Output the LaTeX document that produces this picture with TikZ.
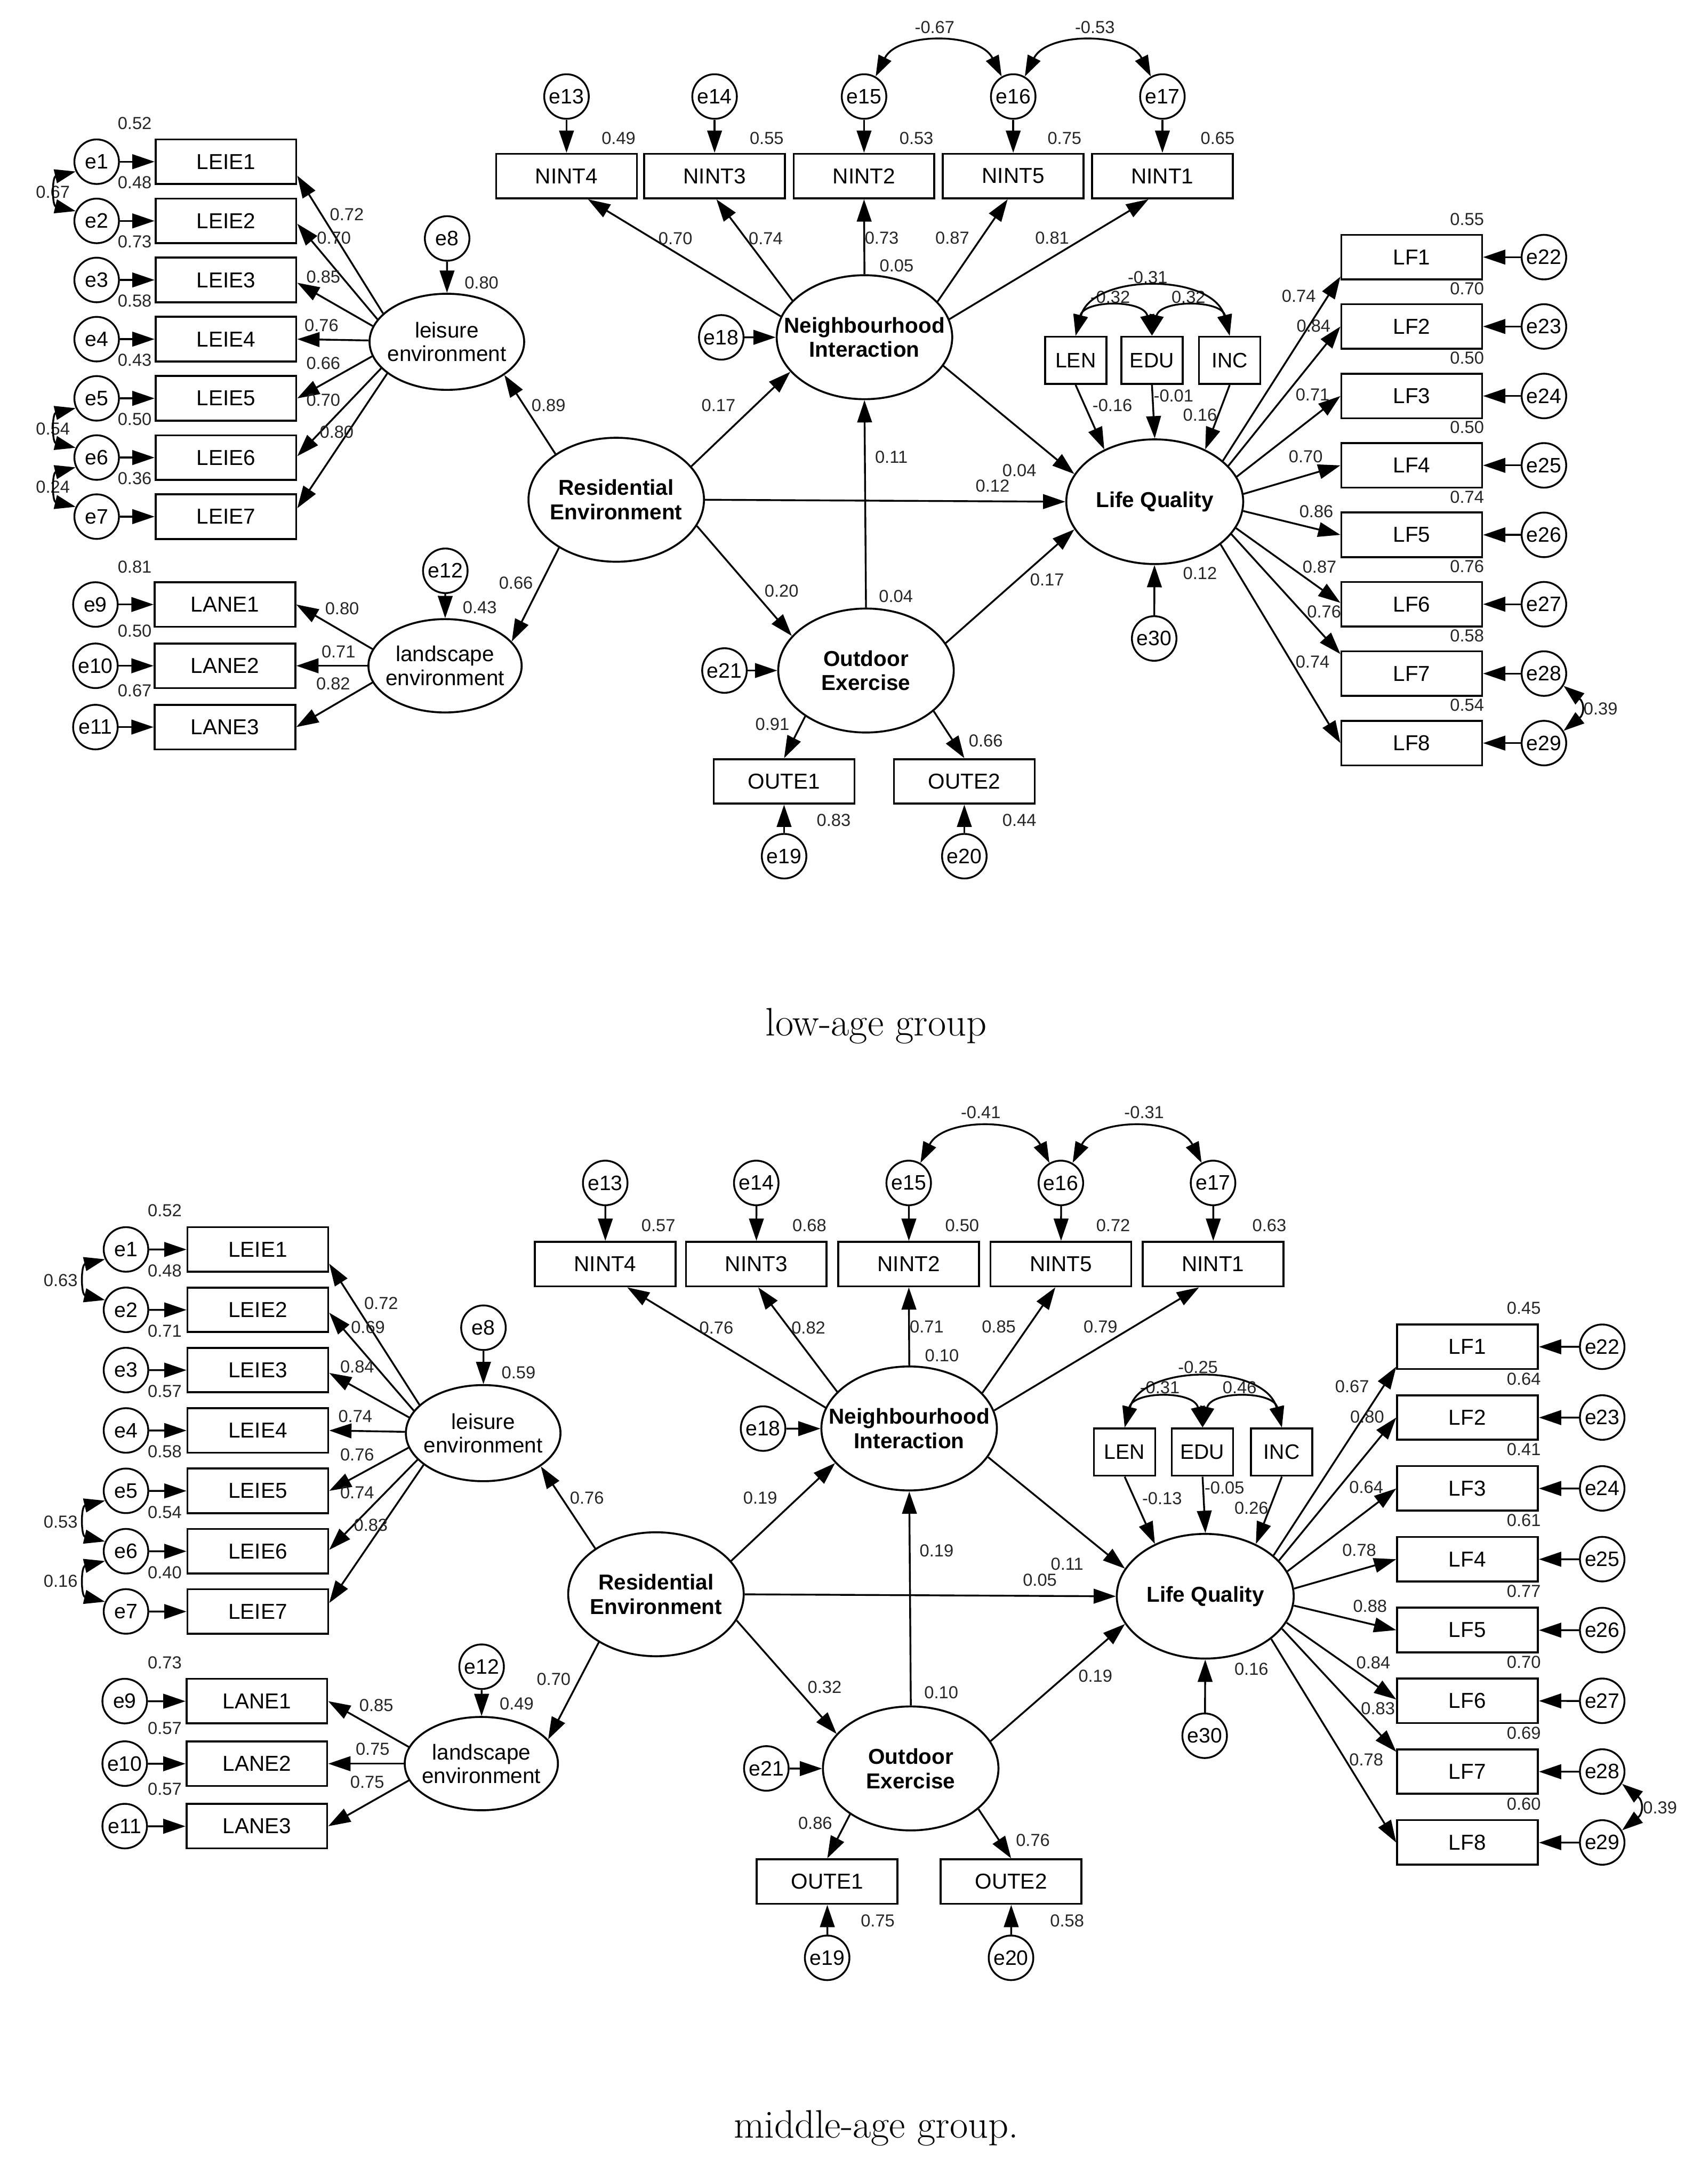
\documentclass[tikz,border=0pt]{standalone}
\usepackage{fontspec}
\newfontfamily\diagfont{Liberation Sans}
\usetikzlibrary{arrows.meta,shapes.geometric}

\newcommand\setlab[2]{\expandafter\def\csname semlab@#1\endcsname{#2}}
\newcommand\lab[1]{\csname semlab@#1\endcsname}
\newcommand\V[2]{\node[val] (v#1) at (#2) {\lab{#1}};}

\tikzset{
 obs/.style={draw, rectangle, line width=1.4pt, minimum width=101pt, minimum height=32pt, inner sep=0pt, font=\diagfont\fontsize{15.5}{17}\selectfont},
 sobs/.style={obs, minimum width=44pt, minimum height=34pt, font=\diagfont\fontsize{15}{17}\selectfont},
 err/.style={draw, circle, line width=1.3pt, minimum size=32pt, inner sep=0pt, font=\diagfont\fontsize{15}{17}\selectfont},
 lat/.style n args={2}{draw, ellipse, line width=1.4pt, inner sep=0pt, minimum width=#1pt, minimum height=#2pt},
 ltxt/.style={align=center, inner sep=0pt, font=\diagfont\fontsize{15.5}{17.5}\selectfont\bfseries},
 ltxtr/.style={align=center, inner sep=0pt, font=\diagfont\fontsize{15.5}{17}\selectfont},
 val/.style={inner sep=0pt, font=\diagfont\fontsize{12.5}{12.5}\selectfont, text=black!85},
 arr/.style={line width=1.3pt, -{Triangle[length=16pt,width=10.5pt]}},
 cov/.style={line width=1.3pt, {Triangle[length=15pt,width=10pt]}-{Triangle[length=15pt,width=10pt]}},
 capt/.style={font=\fontsize{28.5}{30}\selectfont}
}

\newcommand\semdiagram{%
 % ---------- leisure environment block
 \foreach \k/\y in {1/116.1,2/158.6,3/201.0,4/243.5,5/286.0,6/328.5,7/370.9}{%
   \node[err] (e\k) at (69.4,\y) {e\k};
   \node[obs] (LEIE\k) at (162.2,\y) {LEIE\k};
   \draw[arr] (e\k) -- (LEIE\k);
 }
 \node[lat={111}{69}] (lei) at (320.8,245.4) {};
 \node[ltxtr] (leit) at (lei) {leisure\\environment};
 \node[err] (e8) at (321,171.2) {e8};
 \draw[arr] (e8) -- (lei);
 \foreach \k/\ang/\d in {1/156/-10,2/162/-2,3/168/-2,4/179/0,5/191/0,6/202/1,7/208/6}{%
   \draw[arr] (lei.\ang) -- ([yshift=\d pt]LEIE\k.east);
 }
 % ---------- landscape environment block
 \foreach \k/\e/\y in {1/9/434,2/10/478,3/11/522}{%
   \node[err] (e\e) at (68.5,\y) {e\e};
   \node[obs] (LANE\k) at (161.5,\y) {LANE\k};
   \draw[arr] (e\e) -- (LANE\k);
 }
 \node[lat={110}{67}] (land) at (319.5,478) {};
 \node[ltxtr] (landt) at (land) {landscape\\environment};
 \node[err] (e12) at (319.7,409.8) {e12};
 \draw[arr] (e12) -- (land);
 \foreach \k/\ang in {1/167,2/180,3/193}{\draw[arr] (land.\ang) -- (LANE\k.east);}
 % ---------- latent constructs
 \node[lat={126}{89}] (Res) at (442.4,358.8) {};
 \node[ltxt] (Rest) at (Res) {Residential\\Environment};
 \node[lat={126}{89}] (NI) at (620.6,242.1) {};
 \node[ltxt] (NIt) at (NI) {Neighbourhood\\Interaction};
 \node[lat={126}{89}] (OE) at (621.7,481.4) {};
 \node[ltxt] (OEt) at (OE) {Outdoor\\Exercise};
 \node[lat={127}{89.5}] (LQ) at (829,360.2) {};
 \node[ltxt] (LQt) at (LQ) {Life Quality};
 % ---------- neighbourhood indicators
 \foreach \n/\e/\x in {4/13/406.7,3/14/513,2/15/620.3,5/16/727.4,1/17/834.5}{%
   \node[obs] (NINT\n) at (\x,126.4) {NINT\n};
   \node[err] (e\e) at (\x,69.3) {e\e};
   \draw[arr] (e\e) -- (NINT\n);
 }
 \foreach \n/\ang/\d in {4/166/15.4,3/153/1.3,2/90/0,5/26/-4,1/12/-10}{%
   \draw[arr] (NI.\ang) -- ([xshift=\d pt]NINT\n.south);
 }
 \node[err] (e18) at (517.8,242.2) {e18};
 \draw[arr] (e18) -- (NI);
 % ---------- outdoor exercise indicators
 \node[err] (e21) at (520.1,481.4) {e21};
 \draw[arr] (e21) -- (OE);
 \node[obs] (OUTE1) at (562.9,561) {OUTE1};
 \node[obs] (OUTE2) at (692.3,561) {OUTE2};
 \node[err] (e19) at (562.9,614.7) {e19};
 \node[err] (e20) at (692.3,614.7) {e20};
 \draw[arr] (OE.217) -- (OUTE1.north);
 \draw[arr] (OE.329) -- (OUTE2.north);
 \draw[arr] (e19) -- (OUTE1);
 \draw[arr] (e20) -- (OUTE2);
 % ---------- structural paths
 \draw[arr] (Res.143) -- (lei.330);
 \draw[arr] (Res.220) -- (land.20);
 \draw[arr] (Res.24) -- (NI.205);
 \draw[arr] (Res.0) -- (LQ.180);
 \draw[arr] (Res.342) -- (OE.155);
 \draw[arr] (OE.north) -- (NI.south);
 \draw[arr] (NI.340) -- (LQ.161);
 \draw[arr] (OE.19) -- (LQ.199);
 % ---------- controls
 \node[sobs] (LEN) at (772.2,258.7) {LEN};
 \node[sobs] (EDU) at (827,258.7) {EDU};
 \node[sobs] (INC) at (882.8,258.7) {INC};
 \draw[arr] (LEN.south) -- (LQ.134);
 \draw[arr] (EDU.south) -- (LQ.north);
 \draw[arr] (INC.south) -- (LQ.46);
 \node[err] (e30) at (828.6,458.4) {e30};
 \draw[arr] (e30) -- (LQ);
 % ---------- life quality indicators
 \foreach \k/\e/\y in {1/22/184.6,2/23/234.4,3/24/284.3,4/25/334.1,5/26/384.0,6/27/433.8,7/28/483.6,8/29/533.5}{%
   \node[obs] (LF\k) at (1013.5,\y) {LF\k};
   \node[err] (e\e) at (1108.4,\y) {e\e};
   \draw[arr] (e\e) -- (LF\k);
 }
 \foreach \k/\ang/\d in {1/31.6/-14,2/26.6/0,3/17.3/0,4/5.9/0,5/354.3/0,6/342.2/1,7/337.2/14,8/327.1/0}{%
   \draw[arr] (LQ.\ang) -- ([yshift=\d pt]LF\k.west);
 }
 % ---------- value labels
 \V{rl1}{96.7,88.6} \V{rl2}{96.7,131.1} \V{rl3}{96.7,173.5} \V{rl4}{96.7,216.0}
 \V{rl5}{96.7,258.5} \V{rl6}{96.7,301.0} \V{rl7}{96.7,343.4}
 \V{cl1}{\lab{covx},138} \V{cl2}{\lab{covx},307.7} \V{cl3}{\lab{covx},349.6}
 \V{ll1}{249,153.9} \V{ll2}{239.7,170.9} \V{ll3}{232.1,198.6} \V{ll4}{230.8,233.7}
 \V{ll5}{232.1,260.7} \V{ll6}{232.1,287.3} \V{ll7}{241.7,310.3}
 \V{rlei}{345.7,202.8} \V{plei}{393.8,291.1}
 \V{rland}{344.4,436} \V{pland}{370.4,418.5}
 \V{ra1}{96.7,407} \V{ra2}{96.7,453} \V{ra3}{96.7,496}
 \V{la1}{245.6,437} \V{la2}{243,467.7} \V{la3}{239.2,491}
 \V{rn1}{444.1,99.1} \V{rn2}{550.4,99.1} \V{rn3}{657.9,99.1} \V{rn4}{764.2,99.1} \V{rn5}{874.1,99.1}
 \V{cn1}{671,19.6} \V{cn2}{786,19.6}
 \V{ln1}{484.9,171.4} \V{ln2}{549.7,171.4} \V{ln3}{633,170.7} \V{ln4}{683.7,170.7} \V{ln5}{755.3,170.7}
 \V{rni}{643.7,190.6} \V{pni}{515.8,290.9} \V{poeni}{639.9,328}
 \V{pnilq}{731.8,337.7} \V{preslq}{712.6,348.8}
 \V{presoe}{561.1,424.4} \V{roe}{643.2,428} \V{poelq}{751.7,416.2}
 \V{lo1}{554.5,520.1} \V{lo2}{707.7,532} \V{ro1}{598.5,588.7} \V{ro2}{731.8,588.7}
 \V{cLI}{823.9,199} \V{cLE}{797,213.4} \V{cEI}{853.2,213.4}
 \V{pLEN}{798.6,291.2} \V{pEDU}{842.5,284} \V{pINC}{861.5,298}
 \V{rlq}{861.5,411.5}
 \V{rf1}{1053.2,157.3} \V{rf2}{1053.2,207.2} \V{rf3}{1053.2,257} \V{rf4}{1053.2,306.9}
 \V{rf5}{1053.2,356.7} \V{rf6}{1053.2,406.6} \V{rf7}{1053.2,456.4} \V{rf8}{1053.2,506.3}
 \V{lf1}{932.4,212.7} \V{lf2}{943,234} \V{lf3}{942.3,283.4} \V{lf4}{937.4,327.6}
 \V{lf5}{945,367.3} \V{lf6}{947.3,406.9} \V{lf7}{950.6,439.3} \V{lf8}{942.3,475.2}
 \V{c2829}{1149.1,509}
 % ---------- covariances
 \draw[cov] (e1.205) .. controls +(-17,4) and +(-17,-4) .. (e2.155);
 \draw[cov] (e5.205) .. controls +(-17,4) and +(-17,-4) .. (e6.155);
 \draw[cov] (e6.205) .. controls +(-17,4) and +(-17,-4) .. (e7.155);
 \draw[cov] (e15.60) .. controls +(16,-32) and +(-16,-32) .. (e16.120);
 \draw[cov] (e16.60) .. controls +(16,-32) and +(-16,-32) .. (e17.120);
 \draw[cov] (LEN.north) .. controls +(6,-26) and +(-6,-26) .. (EDU.north);
 \draw[cov] (EDU.north) .. controls +(6,-26) and +(-6,-26) .. (INC.north);
 \draw[cov] (LEN.north) .. controls +(12,-45) and +(-12,-45) .. (INC.north);
 \draw[cov] (e28.328) .. controls +(15,12) and +(15,-12) .. (e29.32);
}

\newcommand\toplabels{%
 \setlab{rl1}{0.52}\setlab{rl2}{0.48}\setlab{rl3}{0.73}\setlab{rl4}{0.58}\setlab{rl5}{0.43}\setlab{rl6}{0.50}\setlab{rl7}{0.36}%
 \setlab{cl1}{0.67}\setlab{cl2}{0.54}\setlab{cl3}{0.24}\setlab{covx}{38}%
 \setlab{ll1}{0.72}\setlab{ll2}{0.70}\setlab{ll3}{0.85}\setlab{ll4}{0.76}\setlab{ll5}{0.66}\setlab{ll6}{0.70}\setlab{ll7}{0.80}%
 \setlab{rlei}{0.80}\setlab{plei}{0.89}\setlab{rland}{0.43}\setlab{pland}{0.66}%
 \setlab{ra1}{0.81}\setlab{ra2}{0.50}\setlab{ra3}{0.67}\setlab{la1}{0.80}\setlab{la2}{0.71}\setlab{la3}{0.82}%
 \setlab{rn1}{0.49}\setlab{rn2}{0.55}\setlab{rn3}{0.53}\setlab{rn4}{0.75}\setlab{rn5}{0.65}%
 \setlab{cn1}{-0.67}\setlab{cn2}{-0.53}%
 \setlab{ln1}{0.70}\setlab{ln2}{0.74}\setlab{ln3}{0.73}\setlab{ln4}{0.87}\setlab{ln5}{0.81}%
 \setlab{rni}{0.05}\setlab{pni}{0.17}\setlab{poeni}{0.11}\setlab{pnilq}{0.04}\setlab{preslq}{0.12}%
 \setlab{presoe}{0.20}\setlab{roe}{0.04}\setlab{poelq}{0.17}%
 \setlab{lo1}{0.91}\setlab{lo2}{0.66}\setlab{ro1}{0.83}\setlab{ro2}{0.44}%
 \setlab{cLE}{-0.32}\setlab{cEI}{0.32}\setlab{cLI}{-0.31}\setlab{pLEN}{-0.16}\setlab{pEDU}{-0.01}\setlab{pINC}{0.16}\setlab{rlq}{0.12}%
 \setlab{rf1}{0.55}\setlab{rf2}{0.70}\setlab{rf3}{0.50}\setlab{rf4}{0.50}\setlab{rf5}{0.74}\setlab{rf6}{0.76}\setlab{rf7}{0.58}\setlab{rf8}{0.54}%
 \setlab{lf1}{0.74}\setlab{lf2}{0.84}\setlab{lf3}{0.71}\setlab{lf4}{0.70}\setlab{lf5}{0.86}\setlab{lf6}{0.87}\setlab{lf7}{0.76}\setlab{lf8}{0.74}%
 \setlab{c2829}{0.39}%
}
\newcommand\botlabels{%
 \setlab{rl1}{0.52}\setlab{rl2}{0.48}\setlab{rl3}{0.71}\setlab{rl4}{0.57}\setlab{rl5}{0.58}\setlab{rl6}{0.54}\setlab{rl7}{0.40}%
 \setlab{cl1}{0.63}\setlab{cl2}{0.53}\setlab{cl3}{0.16}\setlab{covx}{23.4}%
 \setlab{ll1}{0.72}\setlab{ll2}{0.69}\setlab{ll3}{0.84}\setlab{ll4}{0.74}\setlab{ll5}{0.76}\setlab{ll6}{0.74}\setlab{ll7}{0.83}%
 \setlab{rlei}{0.59}\setlab{plei}{0.76}\setlab{rland}{0.49}\setlab{pland}{0.70}%
 \setlab{ra1}{0.73}\setlab{ra2}{0.57}\setlab{ra3}{0.57}\setlab{la1}{0.85}\setlab{la2}{0.75}\setlab{la3}{0.75}%
 \setlab{rn1}{0.57}\setlab{rn2}{0.68}\setlab{rn3}{0.50}\setlab{rn4}{0.72}\setlab{rn5}{0.63}%
 \setlab{cn1}{-0.41}\setlab{cn2}{-0.31}%
 \setlab{ln1}{0.76}\setlab{ln2}{0.82}\setlab{ln3}{0.71}\setlab{ln4}{0.85}\setlab{ln5}{0.79}%
 \setlab{rni}{0.10}\setlab{pni}{0.19}\setlab{poeni}{0.19}\setlab{pnilq}{0.11}\setlab{preslq}{0.05}%
 \setlab{presoe}{0.32}\setlab{roe}{0.10}\setlab{poelq}{0.19}%
 \setlab{lo1}{0.86}\setlab{lo2}{0.76}\setlab{ro1}{0.75}\setlab{ro2}{0.58}%
 \setlab{cLE}{-0.31}\setlab{cEI}{0.46}\setlab{cLI}{-0.25}\setlab{pLEN}{-0.13}\setlab{pEDU}{-0.05}\setlab{pINC}{0.26}\setlab{rlq}{0.16}%
 \setlab{rf1}{0.45}\setlab{rf2}{0.64}\setlab{rf3}{0.41}\setlab{rf4}{0.61}\setlab{rf5}{0.77}\setlab{rf6}{0.70}\setlab{rf7}{0.69}\setlab{rf8}{0.60}%
 \setlab{lf1}{0.67}\setlab{lf2}{0.80}\setlab{lf3}{0.64}\setlab{lf4}{0.78}\setlab{lf5}{0.88}\setlab{lf6}{0.84}\setlab{lf7}{0.83}\setlab{lf8}{0.78}%
 \setlab{c2829}{0.39}%
}

\begin{document}
\begin{tikzpicture}[x=1pt,y=-1pt]
\useasboundingbox (0,0) rectangle (1221,1568);
\fill[white] (0,0) rectangle (1221,1568);
\toplabels
\begin{scope}[name prefix=A-]
 \semdiagram
\end{scope}
\node[capt] (capA) at (629,736.6) {low-age group};
\botlabels
\begin{scope}[name prefix=B-, shift={(19.66,778.6)}, scale=1.02]
 \semdiagram
\end{scope}
\node[capt] (capB) at (629,1527.9) {middle-age group.};
\end{tikzpicture}
\end{document}
